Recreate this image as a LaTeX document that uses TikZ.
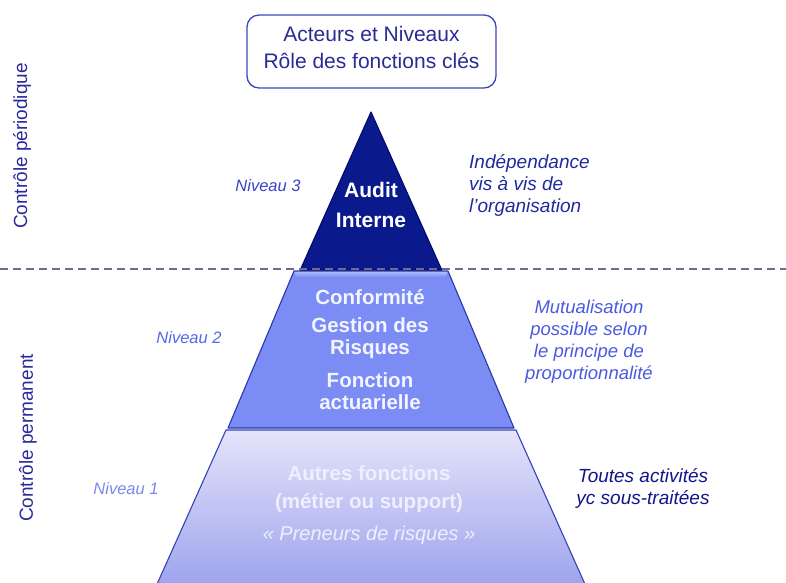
\documentclass[tikz,border=0pt]{standalone}
\usepackage{fontspec}
\setmainfont{Liberation Sans}
\definecolor{navy}{HTML}{0A1A8C}
\definecolor{navyedge}{HTML}{000A6E}
\definecolor{midfill}{HTML}{7B8DF5}
\definecolor{midlight}{HTML}{B4C2FF}
\definecolor{midedge}{HTML}{2838A8}
\definecolor{lowtop}{HTML}{E4E4FA}
\definecolor{lowbot}{HTML}{9CA2EC}
\definecolor{lowedge}{HTML}{3443B8}
\definecolor{titleblue}{HTML}{2B2B95}
\definecolor{boxedge}{HTML}{3A48B8}
\definecolor{dashcol}{HTML}{76688C}
\definecolor{sidecol}{HTML}{2A2A9A}
\definecolor{indcol}{HTML}{1E2A9E}
\definecolor{mutcol}{HTML}{4A5AE0}
\definecolor{toutcol}{HTML}{12148C}
\definecolor{nivthree}{HTML}{3444C8}
\definecolor{nivtwo}{HTML}{5566E8}
\definecolor{nivone}{HTML}{7C86F0}
\definecolor{lowtext}{HTML}{EEF0FF}
\definecolor{midtext}{HTML}{F2F5FF}
\begin{document}
\begin{tikzpicture}[x=1pt,y=-1pt,
  topbox/.style={draw=boxedge,line width=1.3pt,rounded corners=12pt,fill=white,
    minimum width=249pt,minimum height=73pt,inner sep=0pt},
  titletext/.style={align=center,text=titleblue,font=\fontsize{21}{27}\selectfont,inner sep=0pt},
  sidelabel/.style={rotate=90,text=sidecol,font=\fontsize{19}{22}\selectfont,inner sep=0pt},
  nivlabel/.style={font=\itshape\fontsize{16.5}{20}\selectfont,inner sep=0pt},
  inlevel/.style={align=center,font=\bfseries\fontsize{20.5}{22}\selectfont,inner sep=0pt},
  remark/.style={font=\itshape\fontsize{19}{22}\selectfont,inner sep=0pt},
  dashline/.style={dashcol,line width=1.2pt,dash pattern=on 8pt off 5pt}
]
\useasboundingbox (0,0) rectangle (786,582);
\clip (0,0) rectangle (786,582);

% level 1 (bottom)
\shade[top color=lowtop,bottom color=lowbot]
  (226,430) -- (516,430) -- (587.6,590) -- (154.4,590) -- cycle;
\draw[lowedge,line width=1.1pt] (154.4,590) -- (226,430) -- (516,430) -- (587.6,590);

% level 2 (middle)
\fill[midfill] (294,271) -- (448,271) -- (514,428) -- (228,428) -- cycle;
\shade[top color=midlight,bottom color=midfill]
  (294,271) -- (448,271) -- (445.5,277) -- (296.5,277) -- cycle;
\draw[midedge,line width=1.1pt,line join=round] (294,271) -- (448,271) -- (514,428) -- (228,428) -- cycle;

% level 3 (top)
\fill[navy,draw=navyedge,line width=1.1pt,line join=round] (371,112) -- (441.8,270) -- (300.2,270) -- cycle;

% dashed separator
\coordinate (dl) at (0,269);
\coordinate (dr) at (786,269);
\draw[dashline] (dl) -- (dr);

% title
\node[topbox] (title) at (371.5,51.5) {};
\node[titletext] (titletxt) at (371.5,47.5) {Acteurs et Niveaux\\Rôle des fonctions clés};

% side labels
\node[sidelabel] (periodique) at (22,146) {Contrôle périodique};
\node[sidelabel] (permanent) at (28,438) {Contrôle permanent};

% level labels
\node[nivlabel,text=nivthree] (niv3) at (268,186) {Niveau 3};
\node[nivlabel,text=nivtwo] (niv2) at (189,338) {Niveau 2};
\node[nivlabel,text=nivone] (niv1) at (126,489) {Niveau 1};

% texts inside pyramid
\node[inlevel,text=white,font=\bfseries\fontsize{21}{30}\selectfont] (audit) at (371,205) {Audit\\Interne};
\node[inlevel,text=midtext] (conf) at (370,297) {Conformité};
\node[inlevel,text=midtext] (gest) at (370,338) {Gestion des\\Risques};
\node[inlevel,text=midtext] (fonc) at (370,391) {Fonction\\actuarielle};
\node[inlevel,text=lowtext] (autres) at (369,489) {Autres fonctions\\[6pt](métier ou support)};
\node[text=lowtext,font=\itshape\fontsize{20}{22}\selectfont,inner sep=0pt] (preneurs) at (369,535) {«~Preneurs de risques~»};

% remarks on the right
\node[remark,text=indcol,align=left,anchor=west] (indep) at (469,185) {Indépendance\\vis à vis de\\l'organisation};
\node[remark,text=mutcol,align=center,font=\itshape\fontsize{18.5}{22}\selectfont] (mutu) at (589,342) {Mutualisation\\possible selon\\le principe de\\proportionnalité};
\node[remark,text=toutcol,align=center] (toutes) at (643,488) {Toutes activités\\yc sous-traitées};
\end{tikzpicture}
\end{document}
